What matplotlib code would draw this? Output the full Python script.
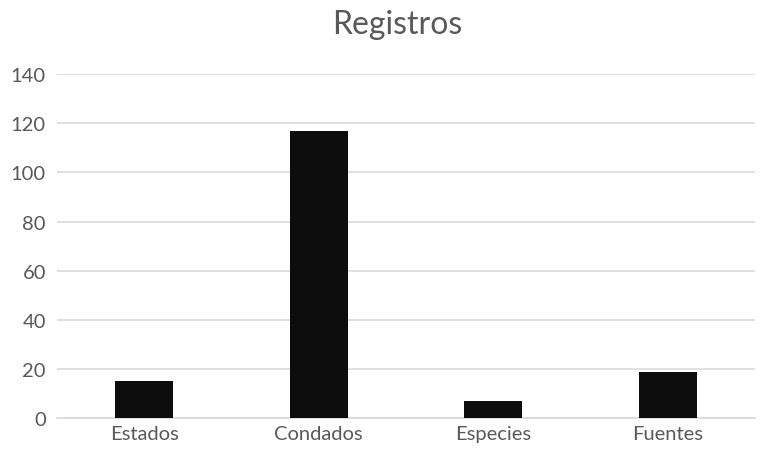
import matplotlib
matplotlib.use('Agg')
import matplotlib.pyplot as plt

# data
categories = ['Estados', 'Condados', 'Especies', 'Fuentes']
registros = [15, 117, 7, 19]
y_ticks = [0, 20, 40, 60, 80, 100, 120, 140]

plt.rcParams['font.family'] = ['Lato', 'DejaVu Sans']

fig = plt.figure(figsize=(7.78, 4.52), dpi=100)
ax = fig.add_axes([57 / 778, 1 - 419.3 / 452, (755 - 57) / 778, (419.3 - 75) / 452])

x = list(range(len(categories)))
ax.bar(x, registros, width=0.33, color='#0d0d0d', zorder=3)

ax.set_xlim(-0.5, len(categories) - 0.5)
ax.set_ylim(0, 140)
ax.set_yticks(y_ticks)
ax.set_xticks(x)
ax.set_xticklabels(categories)
ax.grid(axis='y', color='#d9d9d9', linewidth=1.2, zorder=0)
for side in ['top', 'right', 'left']:
    ax.spines[side].set_visible(False)
ax.spines['bottom'].set_color('#d9d9d9')
ax.spines['bottom'].set_linewidth(1.2)
ax.tick_params(axis='both', length=0, labelsize=14.5, colors='#595959', pad=8)
ax.tick_params(axis='x', pad=5)

fig.text(397 / 778, 1 - 25 / 452, 'Registros', ha='center', va='center', fontsize=23, color='#595959')

fig.savefig('out.png', dpi=100)
